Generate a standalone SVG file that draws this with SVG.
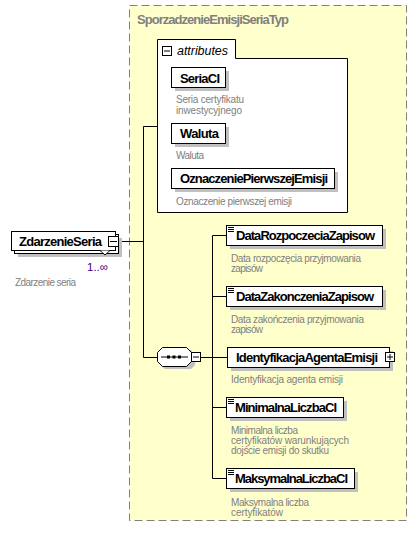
<svg xmlns="http://www.w3.org/2000/svg" width="418" height="535" viewBox="0 0 418 535">
<style>
.bx{fill:#fff;stroke:#000;stroke-width:1}
.sh{fill:#c0c0c0}
.nm{font-family:"Liberation Sans",Arial,sans-serif;font-weight:bold;font-size:13px;fill:#000}
.ds{font-family:"Liberation Sans",Arial,sans-serif;font-size:10px;fill:#808080}
.ln{stroke:#000;stroke-width:1;fill:none}
.ic{stroke:#000;stroke-width:1}
</style>
<rect width="418" height="535" fill="#fff"/>
<g id="type">
<rect x="129.5" y="5.5" width="277" height="515" fill="#ffffcc" stroke="#808080" stroke-width="1" stroke-dasharray="8,4"/>
<text x="137" y="24" font-family="Liberation Sans,Arial,sans-serif" font-weight="bold" font-size="13px" fill="#808080" textLength="152">SporzadzenieEmisjiSeriaTyp</text>
</g>
<g id="connectors">
<path class="ln" d="M119,241.5H143.5M143.5,126.5H157M143.5,126.5V357.5H157M201,357.5H212.5M212.5,235.5V478.5M212.5,235.5H226M212.5,296.5H226M212.5,357.5H227M212.5,407.5H226M212.5,478.5H226"/>
</g>
<g id="attributes">
<path d="M157.5,39.5H235.5V58.5H347.5V212.5H157.5Z" class="bx"/>
<rect x="162.5" y="46.5" width="9" height="9" class="bx"/>
<path class="ic" d="M164,51H170"/>
<text x="177" y="55" font-family="Liberation Sans,Arial,sans-serif" font-style="italic" font-size="12.5px" fill="#000" textLength="51">attributes</text>
</g>
<g id="SeriaCI">
<rect x="175" y="71" width="54" height="20" class="sh"/>
<rect x="171.5" y="67.5" width="54" height="20" class="bx"/>
<text x="180" y="83" class="nm" textLength="40">SeriaCI</text>
<text x="176" y="103" class="ds" textLength="68">Seria certyfikatu</text>
<text x="176" y="114" class="ds" textLength="66">inwestycyjnego</text>
</g>
<g id="Waluta">
<rect x="175" y="127" width="54" height="20" class="sh"/>
<rect x="171.5" y="123.5" width="54" height="20" class="bx"/>
<text x="180" y="138" class="nm" textLength="39">Waluta</text>
<text x="176" y="159" class="ds" textLength="28">Waluta</text>
</g>
<g id="OznaczeniePierwszejEmisji">
<rect x="175" y="172" width="163" height="20" class="sh"/>
<rect x="171.5" y="168.5" width="163" height="20" class="bx"/>
<text x="180" y="183" class="nm" textLength="148">OznaczeniePierwszejEmisji</text>
<text x="176" y="205" class="ds" textLength="116">Oznaczenie pierwszej emisji</text>
</g>
<g id="ZdarzenieSeria">
<rect x="18" y="238" width="104" height="19" class="sh"/>
<rect x="14.5" y="234.5" width="104" height="19" class="bx"/>
<rect x="11.5" y="231.5" width="104" height="19" class="bx"/>
<path d="M100,250.5L105,255L110,250.5" class="bx"/>
<rect x="108.5" y="236.5" width="10" height="10" class="bx"/>
<path class="ic" d="M110,241.5H117"/>
<text x="19" y="246" class="nm" textLength="83">ZdarzenieSeria</text>
<text x="87" y="271" font-family="Liberation Sans,Arial,sans-serif" font-size="11.5px" fill="#400080" textLength="21">1..∞</text>
<text x="15" y="286" class="ds" textLength="61">Zdarzenie seria</text>
</g>
<g id="sequence">
<path d="M166,351H192L196,356V366L192,370H166L162,366V356Z" class="sh" transform="translate(-1,-1)"/>
<path d="M162.5,347.5H186.5L191.5,352.5V361.5L186.5,366.5H162.5L157.5,361.5V352.5Z" class="bx"/>
<path class="ic" d="M161,357H188"/>
<rect x="167" y="355.5" width="3" height="3" fill="#000"/>
<rect x="172.5" y="355.5" width="3" height="3" fill="#000"/>
<rect x="178" y="355.5" width="3" height="3" fill="#000"/>
<rect x="191.5" y="352.5" width="9" height="9" class="bx"/>
<path class="ic" d="M193,357H199"/>
</g>
<g id="DataRozpoczeciaZapisow">
<rect x="230" y="229" width="156" height="20" class="sh"/>
<rect x="226.5" y="225.5" width="156" height="20" class="bx"/>
<path class="ic" d="M228,227.5H234M228,229.5H234M228,231.5H234"/>
<text x="236" y="240" class="nm" textLength="139">DataRozpoczeciaZapisow</text>
<text x="231" y="262" class="ds" textLength="130">Data rozpoczęcia przyjmowania</text>
<text x="231" y="272" class="ds" textLength="32">zapisów</text>
</g>
<g id="DataZakonczeniaZapisow">
<rect x="230" y="290" width="156" height="20" class="sh"/>
<rect x="226.5" y="286.5" width="156" height="20" class="bx"/>
<path class="ic" d="M228,288.5H234M228,290.5H234M228,292.5H234"/>
<text x="236" y="301" class="nm" textLength="138">DataZakonczeniaZapisow</text>
<text x="231" y="323" class="ds" textLength="133">Data zakończenia przyjmowania</text>
<text x="231" y="333" class="ds" textLength="32">zapisów</text>
</g>
<g id="IdentyfikacjaAgentaEmisji">
<rect x="231" y="351" width="162" height="20" class="sh"/>
<rect x="227.5" y="347.5" width="162" height="20" class="bx"/>
<rect x="385.5" y="352.5" width="9" height="9" class="bx"/>
<path class="ic" d="M387,357H393M390,354V360"/>
<text x="236" y="362" class="nm" textLength="142">IdentyfikacjaAgentaEmisji</text>
<text x="231" y="383" class="ds" textLength="112">Identyfikacja agenta emisji</text>
</g>
<g id="MinimalnaLiczbaCI">
<rect x="230" y="401" width="117" height="20" class="sh"/>
<rect x="226.5" y="397.5" width="117" height="20" class="bx"/>
<path class="ic" d="M228,399.5H234M228,401.5H234M228,403.5H234"/>
<text x="235" y="412" class="nm" textLength="102">MinimalnaLiczbaCI</text>
<text x="231" y="434" class="ds" textLength="67">Minimalna liczba</text>
<text x="231" y="444" class="ds" textLength="118">certyfikatów warunkujących</text>
<text x="231" y="454" class="ds" textLength="98">dojście emisji do skutku</text>
</g>
<g id="MaksymalnaLiczbaCI">
<rect x="230" y="472" width="128" height="20" class="sh"/>
<rect x="226.5" y="468.5" width="128" height="20" class="bx"/>
<path class="ic" d="M228,470.5H234M228,472.5H234M228,474.5H234"/>
<text x="235" y="483" class="nm" textLength="113">MaksymalnaLiczbaCI</text>
<text x="231" y="506" class="ds" textLength="78">Maksymalna liczba</text>
<text x="231" y="516" class="ds" textLength="52">certyfikatów</text>
</g>
</svg>
